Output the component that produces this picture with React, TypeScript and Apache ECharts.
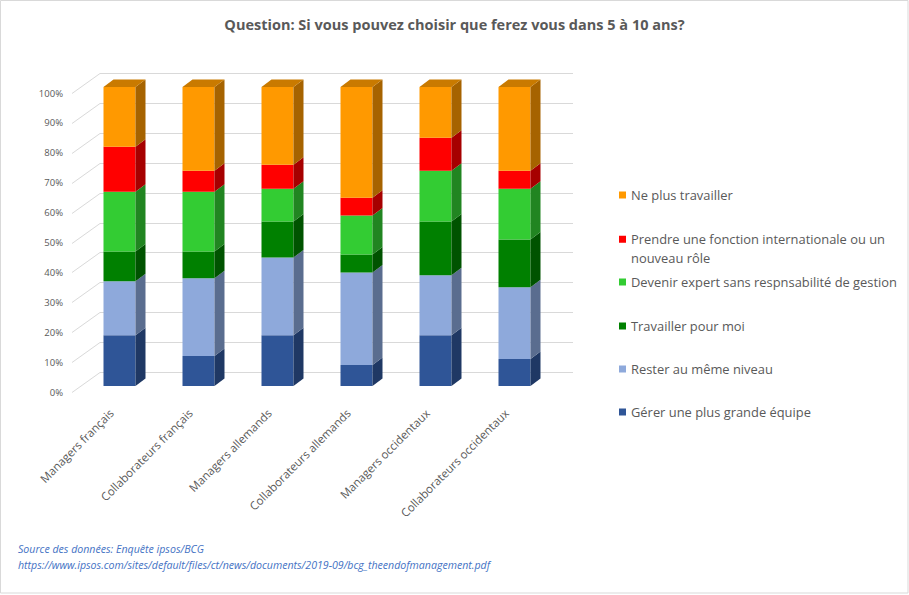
import { useEffect, useRef } from "react";
import * as echarts from "echarts";

const categories = [
  "Managers français",
  "Collaborateurs français",
  "Managers allemands",
  "Collaborateurs allemands",
  "Managers occidentaux",
  "Collaborateurs occidentaux",
];

// Stacked from bottom to top (percent)
const gererEquipe = [17, 10, 17, 7, 17, 9];
const resterNiveau = [18, 26, 26, 31, 20, 24];
const travaillerPourMoi = [10, 9, 12, 6, 18, 16];
const devenirExpert = [20, 20, 11, 13, 17, 17];
const fonctionInternationale = [15, 7, 8, 6, 11, 6];
const nePlusTravailler = [20, 28, 26, 37, 17, 28];

const seriesNames = [
  "Gérer une plus grande équipe",
  "Rester au même niveau",
  "Travailler pour moi",
  "Devenir expert sans respnsabilité de gestion",
  "Prendre une fonction internationale ou un\nnouveau rôle",
  "Ne plus travailler",
];

const yTicks = [0, 10, 20, 30, 40, 50, 60, 70, 80, 90, 100];

const titleText = "Question: Si vous pouvez choisir que ferez vous dans 5 à 10 ans?";
const sourceLine1 = "Source des données: Enquête ipsos/BCG";
const sourceLine2 =
  "https://www.ipsos.com/sites/default/files/ct/news/documents/2019-09/bcg_theendofmanagement.pdf";

const FONT = "'Open Sans', 'Noto Sans', sans-serif";

const palette = [
  { front: "#2F5597", side: "#1F3864", top: "#26467C" },
  { front: "#8EA9DB", side: "#5A6D8F", top: "#7489B2" },
  { front: "#008000", side: "#005300", top: "#006800" },
  { front: "#33CC33", side: "#218521", top: "#29A629" },
  { front: "#FF0000", side: "#A60000", top: "#CC0000" },
  { front: "#FF9900", side: "#A66300", top: "#C97A00" },
];

// legend item vertical centers (first line), top to bottom
const legendCenters = [195, 239, 282, 326, 369, 412];

export default function App() {
  const ref = useRef<HTMLDivElement>(null);

  useEffect(() => {
    if (!ref.current) return;
    const chart = echarts.init(ref.current, null, { renderer: "svg" });

    const values = [
      gererEquipe,
      resterNiveau,
      travaillerPourMoi,
      devenirExpert,
      fonctionInternationale,
      nePlusTravailler,
    ];

    const FX = 8; // bar front plane offset from floor front
    const FY = -6;
    const DX = 10; // bar depth
    const DY = -7.5;
    const WX = 28; // wall offset
    const WY = -20;

    const cumul = categories.map(() => 0);
    const barSeries = values.map((vals, s) => {
      const data = vals.map((v, i) => {
        const base = cumul[i];
        cumul[i] += v;
        return [i, base, base + v];
      });
      const col = palette[s];
      return {
        type: "custom",
        name: seriesNames[s],
        clip: false,
        itemStyle: { color: col.front },
        encode: { x: 0, y: 2 },
        data,
        renderItem: (params: any, api: any) => {
          const idx = api.value(0);
          const b = api.value(1);
          const t = api.value(2);
          const pb = api.coord([idx, b]);
          const pt = api.coord([idx, t]);
          const bw = api.size([1, 0])[0] * 0.405;
          const x0 = pb[0] + FX - bw / 2;
          const x1 = x0 + bw;
          const yb = pb[1] + FY;
          const yt = pt[1] + FY;
          const children: any[] = [
            {
              type: "rect",
              shape: { x: x0, y: yt, width: bw, height: yb - yt },
              style: { fill: col.front },
            },
            {
              type: "polygon",
              shape: {
                points: [
                  [x1, yb],
                  [x1 + DX, yb + DY],
                  [x1 + DX, yt + DY],
                  [x1, yt],
                ],
              },
              style: { fill: col.side },
            },
          ];
          if (t >= 100) {
            children.push({
              type: "polygon",
              shape: {
                points: [
                  [x0, yt],
                  [x1, yt],
                  [x1 + DX, yt + DY],
                  [x0 + DX, yt + DY],
                ],
              },
              style: { fill: col.top },
            });
          }
          return { type: "group", children };
        },
      };
    });

    const gridSeries = {
      type: "custom",
      name: "wall",
      silent: true,
      clip: false,
      encode: { x: 0, y: 1 },
      data: yTicks.map((v) => [0, v]),
      renderItem: (params: any, api: any) => {
        const p = api.coord([0, api.value(1)]);
        const cs = params.coordSys;
        const y = Math.round(p[1]) + 0.5;
        return {
          type: "polyline",
          shape: {
            points: [
              [cs.x, y],
              [cs.x + WX, y + WY],
              [cs.x + cs.width + WX - 1, y + WY],
            ],
          },
          style: { stroke: "#D9D9D9", lineWidth: 1, fill: null },
        };
      },
    };

    const legendOrder = [5, 4, 3, 2, 1, 0];
    const legends = legendOrder.map((s, k) => {
      const twoLine = seriesNames[s].includes("\n");
      const lh = 18.7;
      return {
        show: true,
        left: 619,
        top: twoLine ? legendCenters[k] - 9.35 : legendCenters[k] - lh / 2,
        orient: "vertical",
        padding: 0,
        selectedMode: false,
        itemWidth: 7,
        itemHeight: twoLine ? 25 : 7,
        icon: twoLine ? "path://M0 0H7V7H0Z M0 24.9H0.1V25H0Z" : "rect",
        data: [seriesNames[s]],
        textStyle: {
          fontFamily: FONT,
          fontSize: 12.9,
          color: "#595959",
          lineHeight: lh,
        },
      };
    });

    chart.setOption({
      animation: false,
      backgroundColor: "#FFFFFF",
      title: {
        text: titleText,
        left: "center",
        top: 12,
        textStyle: {
          fontFamily: FONT,
          fontSize: 14.5,
          fontWeight: "bold",
          color: "#595959",
        },
      },
      legend: legends,
      grid: { left: 72, width: 474, top: 93, height: 299, containLabel: false },
      xAxis: {
        type: "category",
        data: categories,
        axisLine: { show: false },
        axisTick: { show: false },
        axisLabel: {
          rotate: 45,
          margin: 19,
          interval: 0,
          fontFamily: FONT,
          fontSize: 11.5,
          color: "#595959",
        },
      },
      yAxis: {
        type: "value",
        min: 0,
        max: 100,
        interval: 10,
        axisLine: { show: false },
        axisTick: { show: false },
        splitLine: { show: false },
        axisLabel: {
          formatter: "{value}%",
          margin: 9,
          fontFamily: FONT,
          fontSize: 9.5,
          color: "#595959",
        },
      },
      graphic: [
        {
          type: "rect",
          shape: { x: 0.5, y: 0.5, width: 907.5, height: 592.5 },
          style: { fill: null, stroke: "#D9D9D9", lineWidth: 1 },
          silent: true,
        },
        {
          type: "text",
          left: 18,
          top: 543,
          style: {
            text: sourceLine1,
            fontFamily: FONT,
            fontSize: 10.6,
            fontStyle: "italic",
            fill: "#4472C4",
          },
        },
        {
          type: "text",
          left: 18,
          top: 559,
          style: {
            text: sourceLine2,
            fontFamily: FONT,
            fontSize: 10.6,
            fontStyle: "italic",
            fill: "#4472C4",
          },
        },
      ],
      series: [gridSeries, ...barSeries],
    });

    return () => chart.dispose();
  }, []);

  return (
    <div
      ref={ref}
      style={{ position: "fixed", left: 0, top: 0, width: 909, height: 595 }}
    />
  );
}
